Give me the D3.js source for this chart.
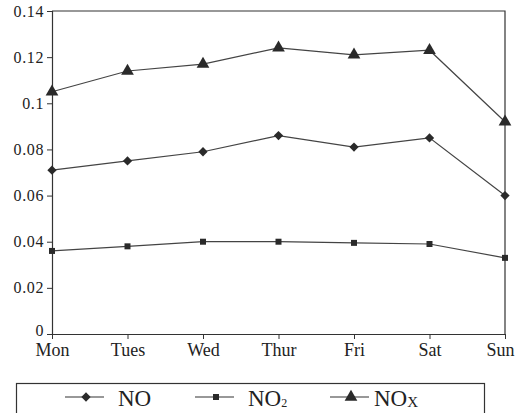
<!DOCTYPE html>
<html>
<head>
<meta charset="utf-8">
<script src="https://cdn.jsdelivr.net/npm/d3@7"></script>
<style>
  body { margin: 0; background: #fff; }
  text { font-family: "Liberation Serif", "DejaVu Serif", serif; fill: #222; }
</style>
</head>
<body>
<div id="chart"></div>
<script>
(function () {

    // data
    var days = ["Mon", "Tues", "Wed", "Thur", "Fri", "Sat", "Sun"];
    var noValues = [0.071, 0.075, 0.079, 0.086, 0.081, 0.085, 0.060];
    var no2Values = [0.036, 0.038, 0.040, 0.040, 0.0395, 0.039, 0.033];
    var noxValues = [0.105, 0.114, 0.117, 0.124, 0.121, 0.123, 0.092];
    var yTicks = [0, 0.02, 0.04, 0.06, 0.08, 0.1, 0.12, 0.14];

    var width = 517, height = 413;
    var margin = {top: 11, right: 12, bottom: 79, left: 52};
    var ink = "#333";

    var series = [
        {name: "NO", values: noValues, symbol: d3.symbolDiamond2 || d3.symbolDiamond, size: 55},
        {name: "NO2", values: no2Values, symbol: d3.symbolSquare, size: 36},
        {name: "NOX", values: noxValues, symbol: d3.symbolTriangle, size: 70}
    ];

    var svg = d3.select("#chart").append("svg")
        .attr("width", width)
        .attr("height", height);

    var x = d3.scalePoint()
        .domain(days)
        .range([margin.left, width - margin.right]);

    var y = d3.scaleLinear()
        .domain([0, 0.14])
        .range([height - margin.bottom, margin.top]);

    /* frame: top and right borders */
    svg.append("path")
        .attr("d", "M" + margin.left + "," + margin.top + "H" + (width - margin.right) + "V" + (height - margin.bottom))
        .attr("fill", "none")
        .attr("stroke", ink)
        .attr("stroke-width", 1.2);

    var yAxis = svg.append("g")
        .attr("transform", "translate(" + margin.left + ",0)")
        .call(d3.axisLeft(y).tickValues(yTicks).tickSize(5).tickPadding(3)
            .tickFormat(function (d) { return d === 0 ? "0" : String(+d.toFixed(2)); }));
    yAxis.select(".domain").attr("stroke", ink).attr("stroke-width", 1.2);
    yAxis.selectAll(".tick line").attr("stroke", ink);
    yAxis.selectAll("text").style("font-size", "16px").style("letter-spacing", "0.6px").attr("fill", "#222");
    // keep the zero label clear of "Mon"
    yAxis.selectAll(".tick text").filter(function (d) { return d === 0; })
        .attr("dy", "0.12em");

    var xAxis = svg.append("g")
        .attr("transform", "translate(0," + (height - margin.bottom) + ")")
        .call(d3.axisBottom(x).tickSize(5).tickPadding(4).tickSizeOuter(0));
    xAxis.select(".domain").attr("stroke", ink).attr("stroke-width", 1.2);
    xAxis.selectAll(".tick line").attr("stroke", ink);
    xAxis.selectAll("text").style("font-size", "18px").attr("fill", "#222");
    // last label sits against the page edge
    xAxis.selectAll(".tick text").filter(function (d) { return d === "Sun"; })
        .attr("dx", -5);

    var line = d3.line()
        .x(function (d, i) { return x(days[i]); })
        .y(function (d) { return y(d); });

    series.forEach(function (s) {
        svg.append("path")
            .datum(s.values)
            .attr("d", line)
            .attr("fill", "none")
            .attr("stroke", "#444")
            .attr("stroke-width", 1.2);

        svg.selectAll(".pt-" + s.name)
            .data(s.values)
            .enter().append("path")
            .attr("class", "pt-" + s.name)
            .attr("transform", function (d, i) {
                return "translate(" + x(days[i]) + "," + y(d) + ")";
            })
            .attr("d", d3.symbol().type(s.symbol).size(s.size))
            .attr("fill", "#2a2a2a");
    });

    /* legend box */
    var legend = svg.append("g");
    legend.append("rect")
        .attr("x", 16.5)
        .attr("y", 383.5)
        .attr("width", 468)
        .attr("height", 40)
        .attr("fill", "none")
        .attr("stroke", ink)
        .attr("stroke-width", 1.2);

    var legendX = [65, 195, 330];
    var legendTextX = [53, 53, 44];
    series.forEach(function (s, i) {
        var g = legend.append("g").attr("transform", "translate(" + legendX[i] + ",397)");
        g.append("line")
            .attr("x1", 0).attr("x2", 39)
            .attr("stroke", ink).attr("stroke-width", 1.2);
        g.append("path")
            .attr("transform", "translate(21,0)")
            .attr("d", d3.symbol().type(s.symbol).size(s.size))
            .attr("fill", "#2a2a2a");
        var t = g.append("text")
            .attr("x", legendTextX[i])
            .attr("y", 9)
            .style("font-size", "23px")
            .text("NO");
        if (s.name === "NO2") {
            t.append("tspan").attr("dy", 1).style("font-size", "12px").text("2");
        } else if (s.name === "NOX") {
            t.append("tspan").attr("dy", 1).style("font-size", "15px").text("X");
        }
    });
})();
</script>
</body>
</html>
